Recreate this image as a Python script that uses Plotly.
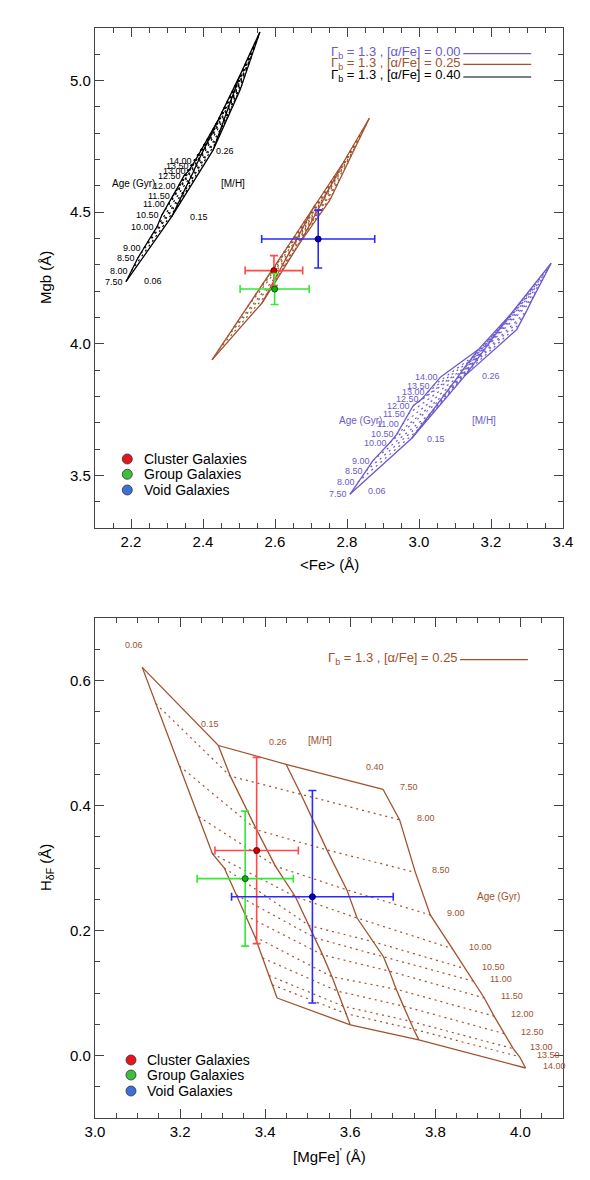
import plotly.graph_objects as go

# ---------------- model grid definitions ----------------
AGES = [7.5, 8.0, 8.5, 9.0, 10.0, 10.5, 11.0, 11.5, 12.0, 12.5, 13.0, 13.5, 14.0]
AGE_LABELS = ["7.50", "8.00", "8.50", "9.00", "10.00", "10.50", "11.00", "11.50",
              "12.00", "12.50", "13.00", "13.50", "14.00"]
MH = [0.06, 0.15, 0.26, 0.40]
MH_LABELS = ["0.06", "0.15", "0.26", "0.40"]

# Top panel, [alpha/Fe]=0.40 (black): one row per [M/H], columns follow AGES
FE_A40 = [
    [2.186, 2.201, 2.219, 2.236, 2.272, 2.286, 2.304, 2.317, 2.332, 2.347, 2.360, 2.369, 2.378],
    [2.313, 2.325, 2.339, 2.349, 2.372, 2.384, 2.396, 2.404, 2.415, 2.426, 2.431, 2.436, 2.442],
    [2.428, 2.434, 2.443, 2.449, 2.462, 2.469, 2.476, 2.481, 2.487, 2.494, 2.497, 2.500, 2.503],
    [2.503, 2.508, 2.514, 2.518, 2.528, 2.534, 2.539, 2.542, 2.547, 2.551, 2.554, 2.556, 2.558],
]
MGB_A40 = [
    [4.236, 4.277, 4.326, 4.364, 4.444, 4.490, 4.531, 4.562, 4.600, 4.638, 4.657, 4.676, 4.695],
    [4.483, 4.516, 4.556, 4.586, 4.650, 4.687, 4.720, 4.744, 4.773, 4.805, 4.820, 4.835, 4.850],
    [4.736, 4.762, 4.793, 4.816, 4.866, 4.894, 4.920, 4.939, 4.961, 4.986, 4.998, 5.010, 5.021],
    [4.964, 4.984, 5.008, 5.026, 5.065, 5.086, 5.107, 5.121, 5.138, 5.157, 5.167, 5.176, 5.185],
]
# Top panel, [alpha/Fe]=0.25 (brown)
FE_A25 = [
    [2.425, 2.444, 2.468, 2.486, 2.524, 2.545, 2.565, 2.579, 2.596, 2.615, 2.624, 2.633, 2.642],
    [2.564, 2.577, 2.593, 2.605, 2.631, 2.646, 2.659, 2.668, 2.680, 2.693, 2.699, 2.705, 2.711],
    [2.669, 2.680, 2.693, 2.703, 2.724, 2.736, 2.746, 2.754, 2.764, 2.774, 2.779, 2.784, 2.789],
    [2.753, 2.763, 2.774, 2.783, 2.803, 2.813, 2.823, 2.830, 2.839, 2.848, 2.853, 2.858, 2.862],
]
MGB_A25 = [
    [3.939, 3.978, 4.027, 4.063, 4.141, 4.185, 4.226, 4.254, 4.290, 4.328, 4.346, 4.365, 4.383],
    [4.155, 4.189, 4.229, 4.259, 4.325, 4.361, 4.395, 4.420, 4.449, 4.481, 4.497, 4.512, 4.528],
    [4.383, 4.410, 4.443, 4.468, 4.521, 4.551, 4.579, 4.599, 4.623, 4.650, 4.662, 4.675, 4.687],
    [4.547, 4.575, 4.608, 4.634, 4.688, 4.719, 4.747, 4.767, 4.792, 4.819, 4.831, 4.844, 4.857],
]
# Top panel, [alpha/Fe]=0.00 (purple)
FE_A00 = [
    [2.808, 2.830, 2.853, 2.872, 2.919, 2.938, 2.954, 2.970, 2.984, 3.007, 3.024, 3.039, 3.061],
    [2.980, 2.999, 3.016, 3.033, 3.061, 3.074, 3.090, 3.106, 3.118, 3.129, 3.139, 3.149, 3.164],
    [3.128, 3.141, 3.153, 3.164, 3.183, 3.192, 3.203, 3.213, 3.222, 3.229, 3.236, 3.243, 3.253],
    [3.271, 3.281, 3.290, 3.299, 3.313, 3.320, 3.328, 3.336, 3.343, 3.348, 3.354, 3.359, 3.367],
]
MGB_A00 = [
    [3.428, 3.474, 3.517, 3.556, 3.624, 3.656, 3.695, 3.733, 3.765, 3.789, 3.816, 3.840, 3.875],
    [3.641, 3.675, 3.708, 3.737, 3.789, 3.812, 3.842, 3.870, 3.894, 3.912, 3.932, 3.950, 3.977],
    [3.879, 3.903, 3.925, 3.945, 3.980, 3.997, 4.017, 4.037, 4.053, 4.065, 4.079, 4.091, 4.110],
    [4.053, 4.078, 4.103, 4.125, 4.164, 4.182, 4.204, 4.226, 4.243, 4.257, 4.273, 4.286, 4.306],
]
# Bottom panel, [alpha/Fe]=0.25 (brown): [MgFe]' and HdF
MGFE_A25 = [
    [3.111, 3.143, 3.199, 3.244, 3.276, 3.304, 3.332, 3.354, 3.376, 3.394, 3.409, 3.417, 3.428],
    [3.290, 3.318, 3.380, 3.424, 3.471, 3.503, 3.518, 3.535, 3.557, 3.570, 3.583, 3.590, 3.600],
    [3.449, 3.484, 3.545, 3.592, 3.616, 3.654, 3.678, 3.692, 3.708, 3.725, 3.740, 3.749, 3.761],
    [3.677, 3.716, 3.753, 3.788, 3.840, 3.870, 3.889, 3.915, 3.938, 3.962, 3.983, 3.998, 4.012],
]
HDF_A25 = [
    [0.621, 0.563, 0.463, 0.382, 0.323, 0.300, 0.257, 0.224, 0.190, 0.156, 0.128, 0.113, 0.092],
    [0.496, 0.447, 0.361, 0.303, 0.254, 0.208, 0.188, 0.161, 0.126, 0.103, 0.079, 0.067, 0.049],
    [0.466, 0.418, 0.329, 0.265, 0.220, 0.182, 0.158, 0.135, 0.106, 0.079, 0.055, 0.042, 0.025],
    [0.426, 0.377, 0.293, 0.225, 0.171, 0.139, 0.119, 0.092, 0.063, 0.035, 0.011, -0.002, -0.020],
]

# ---------------- observed galaxy samples ----------------
SAMPLES = ["Cluster Galaxies", "Group Galaxies", "Void Galaxies"]
FE_OBS = [2.597, 2.599, 2.720]
FE_ERR = [0.080, 0.096, 0.157]
MGB_OBS = [4.278, 4.208, 4.398]
MGB_ERR = [0.057, 0.059, 0.110]
MGFE_OBS = [3.380, 3.353, 3.511]
MGFE_ERR = [0.098, 0.113, 0.190]
HDF_OBS = [0.328, 0.283, 0.254]
HDF_ERR = [0.149, 0.108, 0.170]

ERR_COLORS = ["#FF4A4A", "#35E835", "#2A2AFF"]
PT_COLORS = ["#D00000", "#10B010", "#0000C8"]
PT_EDGE = ["#700000", "#006000", "#000070"]
LEG_COLORS = ["#E8141B", "#3DBE3D", "#3E6FD8"]

PURPLE = "#6A5ACD"
BROWN = "#A0522D"
BLACK = "#000000"
FONT = "Liberation Sans, Arial, Helvetica, sans-serif"

fig = go.Figure()


def grid_traces(xs, ys, color, xa, ya):
    sx, sy, dx, dy = [], [], [], []
    for i in range(len(MH)):
        sx += list(xs[i]) + [None]
        sy += list(ys[i]) + [None]
    for j in range(len(AGES)):
        gx = [xs[i][j] for i in range(len(MH))] + [None]
        gy = [ys[i][j] for i in range(len(MH))] + [None]
        if j == 0 or j == len(AGES) - 1:
            sx += gx
            sy += gy
        else:
            dx += gx
            dy += gy
    fig.add_trace(go.Scatter(x=dx, y=dy, mode="lines", xaxis=xa, yaxis=ya,
                             line=dict(color=color, width=1.2, dash="2px,4px"),
                             showlegend=False, hoverinfo="skip"))
    fig.add_trace(go.Scatter(x=sx, y=sy, mode="lines", xaxis=xa, yaxis=ya,
                             line=dict(color=color, width=1.3),
                             showlegend=False, hoverinfo="skip"))


grid_traces(FE_A40, MGB_A40, BLACK, "x", "y")
grid_traces(FE_A25, MGB_A25, BROWN, "x", "y")
grid_traces(FE_A00, MGB_A00, PURPLE, "x", "y")
grid_traces(MGFE_A25, HDF_A25, BROWN, "x2", "y2")


def obs_traces(xv, xe, yv, ye, xa, ya):
    for k in range(len(SAMPLES)):
        fig.add_trace(go.Scatter(
            x=[xv[k]], y=[yv[k]], mode="markers", xaxis=xa, yaxis=ya,
            marker=dict(size=6, color=PT_COLORS[k], line=dict(color=PT_EDGE[k], width=1)),
            error_x=dict(type="data", array=[xe[k]], color=ERR_COLORS[k], thickness=1.6, width=4),
            error_y=dict(type="data", array=[ye[k]], color=ERR_COLORS[k], thickness=1.6, width=4),
            showlegend=False, hoverinfo="skip"))


obs_traces(FE_OBS, FE_ERR, MGB_OBS, MGB_ERR, "x", "y")
obs_traces(MGFE_OBS, MGFE_ERR, HDF_OBS, HDF_ERR, "x2", "y2")

ann = []
shapes = []

# age labels along [M/H]=0.06 line (top panel grids)
for xs, ys, col in [(FE_A40, MGB_A40, BLACK), (FE_A00, MGB_A00, PURPLE)]:
    for j, lab in enumerate(AGE_LABELS):
        ann.append(dict(x=xs[0][j], y=ys[0][j], xref="x", yref="y", text=lab,
                        showarrow=False, xanchor="right", yanchor="middle", xshift=-1,
                        font=dict(size=9, color=col, family=FONT)))

# [M/H] / header labels (top panel)
TOP_LABEL_TEXT = ["0.06", "0.15", "0.26", "Age (Gyr)", "[M/H]"]
BLACK_LABEL_X = [2.260, 2.389, 2.460, 2.206, 2.483]
BLACK_LABEL_Y = [4.240, 4.483, 4.734, 4.610, 4.610]
PURPLE_LABEL_X = [2.883, 3.047, 3.199, 2.838, 3.181]
PURPLE_LABEL_Y = [3.442, 3.638, 3.879, 3.708, 3.708]
for lx, ly, col in [(BLACK_LABEL_X, BLACK_LABEL_Y, BLACK), (PURPLE_LABEL_X, PURPLE_LABEL_Y, PURPLE)]:
    for t, x, y in zip(TOP_LABEL_TEXT, lx, ly):
        ann.append(dict(x=x, y=y, xref="x", yref="y", text=t, showarrow=False,
                        font=dict(size=9 if t[0].isdigit() else 10, color=col, family=FONT)))

# bottom panel labels
for j, lab in enumerate(AGE_LABELS):
    ann.append(dict(x=MGFE_A25[3][j], y=HDF_A25[3][j], xref="x2", yref="y2", text=lab,
                    showarrow=False, xanchor="left", yanchor="middle", xshift=15, yshift=2,
                    font=dict(size=9, color=BROWN, family=FONT)))
for i, lab in enumerate(MH_LABELS):
    ann.append(dict(x=MGFE_A25[i][0], y=HDF_A25[i][0], xref="x2", yref="y2", text=lab,
                    showarrow=False, xshift=-8, yshift=22,
                    font=dict(size=9, color=BROWN, family=FONT)))
BOT_HEAD_TEXT = ["[M/H]", "Age (Gyr)"]
BOT_HEAD_X = [3.528, 3.949]
BOT_HEAD_Y = [0.504, 0.254]
for t, x, y in zip(BOT_HEAD_TEXT, BOT_HEAD_X, BOT_HEAD_Y):
    ann.append(dict(x=x, y=y, xref="x2", yref="y2", text=t, showarrow=False,
                    font=dict(size=10, color=BROWN, family=FONT)))

# model legends (top right)
MODEL_TEXT = ["Γ<sub>b</sub> = 1.3 , [α/Fe] = 0.00",
              "Γ<sub>b</sub> = 1.3 , [α/Fe] = 0.25",
              "Γ<sub>b</sub> = 1.3 , [α/Fe] = 0.40"]
MODEL_COLORS = [PURPLE, BROWN, BLACK]
for k, (t, c) in enumerate(zip(MODEL_TEXT, MODEL_COLORS)):
    yy = [0.9506, 0.9294, 0.904][k]
    ann.append(dict(x=0.787, y=yy, xref="x domain", yref="y domain", text=t, showarrow=False,
                    xanchor="right", yanchor="middle", font=dict(size=13, color=c, family=FONT)))
    shapes.append(dict(type="line", xref="x domain", yref="y domain", x0=0.787, x1=0.932,
                       y0=yy - 0.002, y1=yy - 0.002, line=dict(color=c, width=1.2)))
ann.append(dict(x=0.78, y=0.919, xref="x2 domain", yref="y2 domain", text=MODEL_TEXT[1],
                showarrow=False, xanchor="right", yanchor="middle",
                font=dict(size=13, color=BROWN, family=FONT)))
shapes.append(dict(type="line", xref="x2 domain", yref="y2 domain", x0=0.78, x1=0.925,
                   y0=0.9166, y1=0.9166, line=dict(color=BROWN, width=1.2)))

# sample legends
for xr, yr, cx, tx, ys in [("x domain", "y domain", 0.069, 0.0998, [0.138, 0.1074, 0.076]),
                           ("x2 domain", "y2 domain", 0.0769, 0.1068, [0.116, 0.086, 0.054])]:
    for k, s in enumerate(SAMPLES):
        shapes.append(dict(type="circle", xref=xr, yref=yr, xsizemode="pixel", ysizemode="pixel",
                           xanchor=cx, yanchor=ys[k], x0=-5, x1=5, y0=-5, y1=5,
                           fillcolor=LEG_COLORS[k], line=dict(color="#333333", width=0.8)))
        ann.append(dict(x=tx, y=ys[k], xref=xr, yref=yr, text=s, showarrow=False,
                        xanchor="left", yanchor="middle",
                        font=dict(size=14, color="black", family=FONT)))

# axis titles
ann.append(dict(x=0.5, y=0, xref="x domain", yref="y domain", yshift=-37, text="&lt;Fe&gt; (Å)",
                showarrow=False, yanchor="middle", font=dict(size=15, color="black", family=FONT)))
ann.append(dict(x=0, y=0.5, xref="x domain", yref="y domain", xshift=-49, text="Mgb (Å)",
                textangle=-90, showarrow=False, xanchor="center",
                font=dict(size=15, color="black", family=FONT)))
ann.append(dict(x=0.5, y=0, xref="x2 domain", yref="y2 domain", yshift=-37,
                text="[MgFe]<sup>'</sup> (Å)", showarrow=False, yanchor="middle",
                font=dict(size=15, color="black", family=FONT)))
ann.append(dict(x=0, y=0.5, xref="x2 domain", yref="y2 domain", xshift=-49,
                text="H<sub>δF</sub> (Å)", textangle=-90, showarrow=False, xanchor="center",
                font=dict(size=15, color="black", family=FONT)))

axis_common = dict(showline=True, linecolor="#444444", linewidth=1.2, mirror="ticks",
                   ticks="inside", ticklen=9, tickcolor="#444444", tickwidth=1,
                   showgrid=False, zeroline=False, tickformat=".1f",
                   tickfont=dict(size=15, color="black", family=FONT))

fig.update_layout(
    width=590, height=1180,
    margin=dict(l=95, r=27, t=28, b=62),
    paper_bgcolor="white", plot_bgcolor="white",
    showlegend=False,
    xaxis=dict(domain=[0, 1], range=[2.1, 3.4], dtick=0.2, tick0=0, anchor="y",
               minor=dict(dtick=0.05, ticks="inside", ticklen=5, tickcolor="#444444"), **axis_common),
    yaxis=dict(domain=[0.5413, 1], range=[3.3, 5.2], dtick=0.5, tick0=0, anchor="x",
               minor=dict(dtick=0.1, ticks="inside", ticklen=5, tickcolor="#444444"), **axis_common),
    xaxis2=dict(domain=[0, 1], range=[3.0, 4.1], dtick=0.2, tick0=0, anchor="y2",
                minor=dict(dtick=0.05, ticks="inside", ticklen=5, tickcolor="#444444"), **axis_common),
    yaxis2=dict(domain=[0, 0.4587], range=[-0.1, 0.7], dtick=0.2, tick0=0, anchor="x2",
                minor=dict(dtick=0.05, ticks="inside", ticklen=5, tickcolor="#444444"), **axis_common),
    annotations=ann,
    shapes=shapes,
)

fig.write_html("out.html")
